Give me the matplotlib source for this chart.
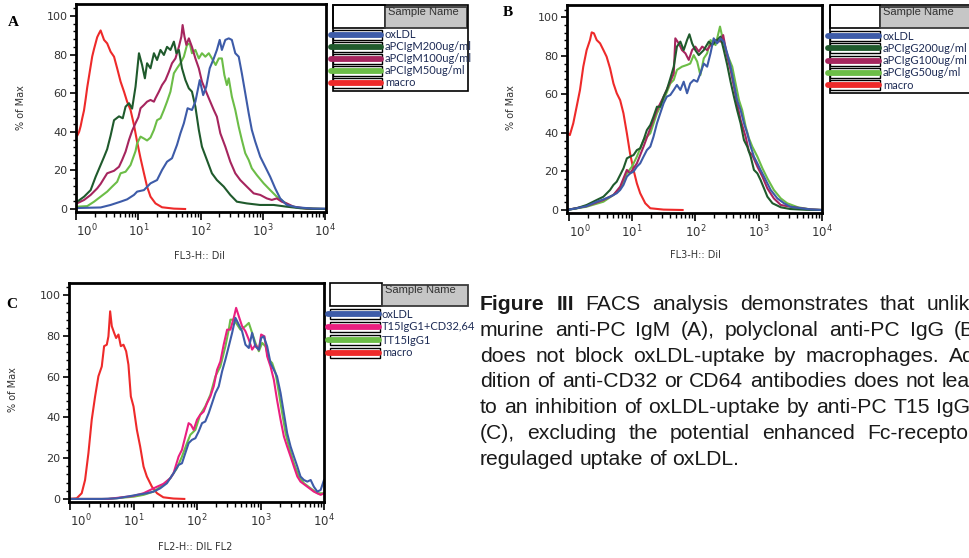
import numpy as np
import matplotlib
matplotlib.use("Agg")
import matplotlib.pyplot as plt
from matplotlib.ticker import FixedLocator, MultipleLocator
from matplotlib.patches import Rectangle

W, H = 969, 558

# ---- colours ----
BLUE = "#3d5ba8"
DKGREEN = "#1f5a2c"
MAROON = "#a6255e"
LTGREEN = "#6cbd47"
RED = "#ee2a2a"
PINK = "#ea1f80"

# ---- panel A : anti-PC IgM (x = log10 FL3-H, y = % of max) ----
A_OX_LOG = [0.0, 0.395, 0.555, 0.715, 0.82, 0.93, 0.98, 1.09, 1.195, 1.3, 1.38, 1.46, 1.54, 1.62, 1.675,
            1.73, 1.79, 1.86, 1.915, 1.985, 2.04, 2.09, 2.145, 2.21, 2.26, 2.305, 2.34, 2.395, 2.45, 2.5,
            2.555, 2.61, 2.66, 2.715, 2.77, 2.82, 2.875, 2.955, 3.035, 3.115, 3.195, 3.275, 3.38, 3.54, 3.8, 4.0]
A_OX_PCT = [0.5, 0.8, 2.1, 3.8, 5, 7.3, 9, 9.8, 13.3, 15, 20.2, 24.5, 26.3, 33.2, 39.2,
            44.4, 52.2, 51.3, 55.6, 66.8, 59, 63.4, 72.9, 78, 82.4, 87.6, 82.4, 87.6, 88.4, 87.6,
            80.7, 78.9, 70.3, 60, 49.6, 41, 34.9, 27.1, 21.9, 16.7, 10.7, 5.5, 2.1, 0.9, 0.2, 0.2]

A_M200_LOG = [0.0, 0.02, 0.13, 0.235, 0.315, 0.395, 0.45, 0.5, 0.555, 0.61, 0.69, 0.75, 0.795, 0.85, 0.9,
              0.955, 1.01, 1.06, 1.105, 1.14, 1.195, 1.25, 1.3, 1.355, 1.41, 1.46, 1.515, 1.57, 1.61, 1.65,
              1.7, 1.755, 1.81, 1.86, 1.915, 1.97, 2.02, 2.1, 2.18, 2.26, 2.37, 2.475, 2.58, 2.74, 2.95,
              3.17, 3.38, 3.6, 3.8, 4.0]
A_M200_PCT = [5, 3.8, 6.4, 9.8, 16.7, 22.8, 27, 31, 38, 46, 48, 47, 53, 54.8, 52,
              63.4, 80.7, 74.6, 67.7, 75.5, 72.9, 80.7, 77.2, 82.4, 79.8, 84, 82.4, 86.7, 80.7, 82.4,
              72.9, 66.8, 62.5, 60.8, 53, 41, 32.3, 25.4, 18.5, 15, 11.6, 7.3, 3.8, 2.9, 2.1,
              2.1, 1.2, 0.4, 0.1, 0]

A_M100_LOG = [0.0, 0.02, 0.13, 0.235, 0.34, 0.395, 0.45, 0.5, 0.61, 0.69, 0.74, 0.795, 0.85, 0.9, 0.955,
              1.0, 1.035, 1.09, 1.14, 1.195, 1.25, 1.275, 1.33, 1.38, 1.435, 1.49, 1.54, 1.595, 1.65, 1.69,
              1.71, 1.74, 1.77, 1.81, 1.86, 1.915, 1.97, 2.02, 2.075, 2.13, 2.21, 2.26, 2.315, 2.395,
              2.475, 2.555, 2.635, 2.74, 2.85, 2.955, 3.06, 3.14, 3.22, 3.3, 3.38, 3.49, 3.7, 4.0]
A_M100_PCT = [3.5, 3, 4.7, 7.3, 10.7, 13, 15.9, 18.5, 19.8, 21.9, 25.4, 29.7, 35.8, 40.5, 44.5,
              47.5, 52.2, 53.9, 55.6, 56.5, 55.6, 57.4, 60.8, 64.2, 66.8, 71.1, 75.5, 78, 84, 89.3,
              95.3, 89.3, 85, 88.4, 84, 78, 72.9, 66, 61.7, 57.4, 51.3, 47.8, 39.2, 32.3,
              24.5, 18.5, 15, 11.6, 8.1, 7.3, 5.5, 4.7, 5.5, 3.8, 2.9, 1.2, 0.2, 0]

A_M50_LOG = [0.0, 0.02, 0.18, 0.29, 0.395, 0.5, 0.58, 0.66, 0.715, 0.795, 0.875, 0.955, 0.98, 1.035, 1.09,
             1.14, 1.195, 1.25, 1.3, 1.355, 1.41, 1.46, 1.515, 1.57, 1.62, 1.675, 1.73, 1.78, 1.825, 1.86,
             1.915, 1.97, 2.02, 2.075, 2.13, 2.18, 2.24, 2.29, 2.34, 2.38, 2.42, 2.45, 2.5, 2.555, 2.61,
             2.66, 2.715, 2.77, 2.82, 2.9, 3.01, 3.115, 3.22, 3.33, 3.43, 3.6, 4.0]
A_M50_PCT = [1.5, 1.2, 1.5, 3.8, 6.4, 9, 11.6, 14.1, 18.5, 19.3, 22.8, 30, 34, 37.5, 36.5,
             35.5, 37, 41, 46, 47, 51.3, 55.6, 60.8, 70.3, 72.9, 75.5, 78.9, 85, 85.8, 80.7,
             82.4, 78, 80.7, 78.9, 80.7, 78, 74.6, 78, 78, 69.4, 64.2, 67.7, 58.2, 51.3, 42.6,
             35.8, 28.9, 25.4, 21.1, 17.6, 13.3, 9.8, 6.4, 3.8, 1.5, 0.5, 0]

A_MAC_LOG = [0.0, 0.02, 0.05, 0.075, 0.1, 0.128, 0.155, 0.18, 0.21, 0.235, 0.26, 0.29, 0.315, 0.34, 0.37,
             0.395, 0.45, 0.5, 0.555, 0.61, 0.66, 0.715, 0.77, 0.82, 0.875, 0.93, 0.98, 1.035, 1.09, 1.14,
             1.195, 1.275, 1.38, 1.57, 1.75]
A_MAC_PCT = [41, 38, 40, 43, 47, 51, 57, 63, 69, 74, 79, 83, 86, 89, 91,
             92.5, 87.6, 85.8, 81.5, 78.9, 72.9, 66, 60.8, 55.6, 51.3, 43.5, 34.9, 26.3, 18.5, 11.6,
             6.4, 2.9, 0.9, 0.2, 0]

# ---- panel B : polyclonal anti-PC IgG ----
B_OX_LOG = [-0.03, 0.127, 0.285, 0.444, 0.55, 0.655, 0.76, 0.814, 0.866, 0.92, 0.97, 1.025, 1.078, 1.13,
            1.183, 1.236, 1.29, 1.34, 1.395, 1.447, 1.5, 1.55, 1.606, 1.66, 1.71, 1.764, 1.817, 1.87,
            1.92, 1.975, 2.03, 2.08, 2.134, 2.187, 2.24, 2.29, 2.345, 2.398, 2.45, 2.504, 2.557, 2.61,
            2.66, 2.715, 2.768, 2.82, 2.874, 2.926, 2.98, 3.03, 3.085, 3.138, 3.19, 3.296, 3.4, 3.5,
            3.67, 3.82, 4.0]
B_OX_PCT = [0, 0.9, 2, 4.3, 5.5, 6.9, 8.7, 10.4, 13, 17.3, 19, 19.9, 22.5, 24.2,
            27.7, 31.1, 32.9, 38, 45, 50.2, 55.4, 58.8, 59.7, 62.3, 64.9, 62.3, 66.6, 60.6,
            65.7, 67.5, 66.6, 70.9, 76, 74.4, 81.3, 89.1, 86.5, 89.1, 87.4, 81.3, 74.4, 65.7,
            57, 51.9, 45, 39.8, 32.9, 27.7, 24.2, 20.8, 17.3, 13.8, 10.4, 6, 3.5, 1.7,
            0.9, 0.3, 0]

B_G200_LOG = [-0.03, 0.127, 0.285, 0.444, 0.55, 0.655, 0.708, 0.76, 0.814, 0.866, 0.92, 0.97, 1.025,
              1.078, 1.13, 1.183, 1.236, 1.29, 1.34, 1.395, 1.447, 1.5, 1.55, 1.606, 1.66, 1.71, 1.764,
              1.817, 1.87, 1.907, 1.95, 2.0, 2.055, 2.134, 2.213, 2.266, 2.345, 2.398, 2.45, 2.504,
              2.557, 2.61, 2.66, 2.715, 2.768, 2.82, 2.874, 2.926, 2.98, 3.03, 3.085, 3.138, 3.218,
              3.35, 3.5, 3.75, 4.0]
B_G200_PCT = [0, 0.9, 2.6, 5.2, 6.9, 10.4, 13, 14.7, 18.2, 21.6, 26.8, 27.7, 28.5,
              31.1, 32, 36.3, 41.5, 44.1, 48.4, 53.6, 53.6, 58.8, 62.3, 68.3, 74.4, 84.8, 87.4,
              83, 88.2, 91.2, 86.5, 83, 80.4, 83, 87.4, 85.6, 88.2, 90, 83, 75.3,
              66.6, 58.8, 51.9, 45, 36.3, 32.9, 27.7, 20.8, 19, 15.6, 11.2, 6.9, 3.5,
              1.4, 0.5, 0.1, 0]

B_G100_LOG = [-0.03, 0.285, 0.55, 0.708, 0.814, 0.92, 0.97, 1.078, 1.183, 1.29, 1.395, 1.5, 1.606,
              1.66, 1.685, 1.738, 1.79, 1.844, 1.897, 1.95, 2.0, 2.055, 2.108, 2.187, 2.24, 2.32, 2.398,
              2.44, 2.504, 2.557, 2.61, 2.66, 2.715, 2.795, 2.847, 2.9, 2.98, 3.06, 3.138, 3.24, 3.35,
              3.5, 3.67, 3.82, 4.0]
B_G100_PCT = [0, 2, 5.2, 7.8, 12.1, 20.8, 19, 24.2, 32.9, 42.4, 51.9, 58.8, 66.6,
              70.9, 89.1, 86.5, 83, 81.3, 77.9, 83, 84.8, 82.2, 84.8, 83, 85.6, 88.2, 87.4,
              90.8, 79.6, 72.7, 64, 55.4, 46.7, 38, 30.3, 28.5, 22.5, 17.3, 11.2, 6, 2.6,
              1.7, 0.9, 0.3, 0]

B_G50_LOG = [-0.03, 0.285, 0.55, 0.708, 0.814, 0.92, 1.0, 1.078, 1.183, 1.29, 1.395, 1.5, 1.606, 1.66,
             1.71, 1.79, 1.87, 1.92, 1.975, 2.03, 2.08, 2.134, 2.187, 2.24, 2.32, 2.39, 2.425, 2.478,
             2.53, 2.583, 2.636, 2.69, 2.74, 2.795, 2.847, 2.9, 2.98, 3.06, 3.138, 3.24, 3.35, 3.45,
             3.62, 3.82, 4.0]
B_G50_PCT = [0, 1.7, 4.3, 7.8, 11.2, 19, 22.5, 27.7, 36.3, 39.8, 50.2, 57, 65.7, 67.5,
             72.7, 74.4, 75.3, 76, 80.4, 77, 70, 78.7, 81.3, 88.2, 85.6, 95.2, 90, 83,
             78.7, 74.4, 65.7, 57, 51.9, 43.3, 37.2, 32.9, 27.7, 21.6, 16.4, 10.4, 6, 3.5,
             1.4, 0.3, 0]

B_MAC_LOG = [-0.03, -0.02, 0.02, 0.074, 0.127, 0.18, 0.232, 0.285, 0.338, 0.365, 0.4, 0.444, 0.497,
             0.55, 0.6, 0.655, 0.708, 0.76, 0.814, 0.866, 0.92, 0.97, 1.025, 1.078, 1.13, 1.21, 1.29,
             1.5, 1.8]
B_MAC_PCT = [68, 40, 38.9, 45, 53.6, 62.3, 74.4, 83, 88.2, 92.2, 91.7, 88.2, 86.5,
             83, 79.6, 73.5, 65.7, 60.6, 57, 50.2, 39.8, 29.4, 20.8, 13.8, 8.7, 3.5, 0.9,
             0.2, 0]

# ---- panel C : T15 IgG1 with / without anti-CD32/64 ----
C_OX_LOG = [-0.016, 0.5, 0.737, 0.895, 1.053, 1.21, 1.316, 1.42, 1.526, 1.63, 1.71, 1.763, 1.816, 1.868,
            1.92, 1.974, 2.026, 2.079, 2.13, 2.184, 2.237, 2.29, 2.342, 2.395, 2.447, 2.5, 2.553, 2.605,
            2.658, 2.71, 2.763, 2.816, 2.868, 2.92, 2.974, 3.01, 3.05, 3.105, 3.158, 3.21, 3.26, 3.316,
            3.368, 3.42, 3.474, 3.526, 3.58, 3.63, 3.684, 3.737, 3.79, 3.84, 3.895, 3.947, 4.0]
C_OX_PCT = [0, 0, 0.3, 1.1, 2, 2.8, 3.6, 5.2, 7.7, 12.6, 16.7, 17.5, 22.5, 27.4,
            29, 29.8, 33.1, 37.2, 38, 42.1, 47, 52, 55.2, 62.6, 68.4, 74.9, 81.5, 88.9,
            85.6, 82.3, 75.7, 74.1, 81.5, 74.9, 73.3, 79, 79.8, 74.9, 66.7, 63.4, 60.2, 52,
            42.1, 32.3, 25.7, 20.8, 15.9, 11, 9.3, 8.5, 9.3, 6, 3.6, 4.4, 9.3]

C_CD_LOG = [-0.016, 0.6, 1.0, 1.158, 1.263, 1.37, 1.47, 1.58, 1.63, 1.71, 1.763, 1.816, 1.868, 1.905,
            1.947, 2.0, 2.05, 2.105, 2.158, 2.21, 2.263, 2.316, 2.368, 2.42, 2.474, 2.526, 2.579, 2.616,
            2.658, 2.71, 2.763, 2.816, 2.868, 2.92, 2.974, 3.01, 3.063, 3.105, 3.158, 3.21, 3.26, 3.316,
            3.368, 3.42, 3.474, 3.526, 3.58, 3.63, 3.737, 3.84, 3.947, 4.0]
C_CD_PCT = [0, 0, 1.5, 2.8, 4.4, 6, 7.4, 10.2, 12.6, 20.8, 24.1, 30.7, 37.2, 36.4,
            33.9, 38.9, 41.3, 42.9, 47, 50.3, 55.2, 63.4, 67.5, 75.7, 83.1, 83.1, 88.9, 93.8,
            89.7, 84.8, 82.3, 78.2, 73.3, 75.7, 73.3, 80.7, 79.8, 70, 65, 58.5, 48.7, 38.9,
            30.7, 25.7, 20.8, 15.9, 11, 8.5, 6, 3.6, 2, 2.8]

C_TT_LOG = [-0.016, 0.6, 1.0, 1.158, 1.316, 1.47, 1.58, 1.684, 1.763, 1.842, 1.895, 1.974, 2.05, 2.13,
            2.21, 2.29, 2.368, 2.447, 2.5, 2.526, 2.579, 2.632, 2.684, 2.763, 2.816, 2.868, 2.92, 2.974,
            3.026, 3.079, 3.13, 3.184, 3.237, 3.29, 3.342, 3.395, 3.447, 3.526, 3.605, 3.684, 3.79,
            3.895, 4.0]
C_TT_PCT = [0, 0, 1.1, 2, 3.6, 6.9, 10.2, 15.1, 20.8, 27.4, 31.5, 33.9, 41.3, 45.4,
            51.1, 60.2, 65, 74.9, 83.1, 88, 88, 85.6, 83.1, 84.8, 86.4, 81.5, 76.6, 72.5,
            76.6, 74.9, 68.4, 66.7, 61.8, 52, 42.1, 32.3, 25.7, 17.5, 11, 7.7, 5.2,
            2.8, 2.8]

C_MAC_LOG = [-0.016, 0.105, 0.184, 0.237, 0.29, 0.342, 0.395, 0.447, 0.5, 0.537, 0.579, 0.605, 0.632,
             0.658, 0.695, 0.726, 0.763, 0.8, 0.842, 0.884, 0.92, 0.958, 1.0, 1.053, 1.105, 1.158, 1.21,
             1.29, 1.37, 1.47, 1.63, 1.8]
C_MAC_PCT = [0, 0.3, 2.8, 9.3, 22.5, 38.9, 50.3, 60.2, 65, 75, 75.7, 79.8, 92.1,
             84.8, 81.5, 79, 80.7, 75, 75.7, 72.5, 65.9, 50.3, 45.4, 33.9, 25.7, 15.9, 11,
             6, 2.8, 0.8, 0.2, 0]

# legend order (name, colour, log, pct)
A_SERIES = [("oxLDL", BLUE, A_OX_LOG, A_OX_PCT),
            ("aPCIgM200ug/ml", DKGREEN, A_M200_LOG, A_M200_PCT),
            ("aPCIgM100ug/ml", MAROON, A_M100_LOG, A_M100_PCT),
            ("aPCIgM50ug/ml", LTGREEN, A_M50_LOG, A_M50_PCT),
            ("macro", RED, A_MAC_LOG, A_MAC_PCT)]
B_SERIES = [("oxLDL", BLUE, B_OX_LOG, B_OX_PCT),
            ("aPCIgG200ug/ml", DKGREEN, B_G200_LOG, B_G200_PCT),
            ("aPCIgG100ug/ml", MAROON, B_G100_LOG, B_G100_PCT),
            ("aPCIgG50ug/ml", LTGREEN, B_G50_LOG, B_G50_PCT),
            ("macro", RED, B_MAC_LOG, B_MAC_PCT)]
C_SERIES = [("oxLDL", BLUE, C_OX_LOG, C_OX_PCT),
            ("T15IgG1+CD32,64", PINK, C_CD_LOG, C_CD_PCT),
            ("TT15IgG1", LTGREEN, C_TT_LOG, C_TT_PCT),
            ("macro", RED, C_MAC_LOG, C_MAC_PCT)]

DECADES = [1, 10, 100, 1000, 10000]
DECADE_LABELS = ["$10^{0}$", "$10^{1}$", "$10^{2}$", "$10^{3}$", "$10^{4}$"]
Y_TICKS = [0, 20, 40, 60, 80, 100]

CAPTION = ["Figure III FACS analysis demonstrates that unlike",
           "murine anti-PC IgM (A), polyclonal anti-PC IgG (B)",
           "does not block oxLDL-uptake by macrophages. Ad-",
           "dition of anti-CD32 or CD64 antibodies does not lead",
           "to an inhibition of oxLDL-uptake by anti-PC T15 IgG1",
           "(C), excluding the potential enhanced Fc-receptor-",
           "regulaged uptake of oxLDL."]

fig = plt.figure(figsize=(W / 100, H / 100), dpi=100)
fig.patch.set_facecolor("white")

# overlay in pixel coords for legends / labels
ov = fig.add_axes([0, 0, 1, 1], zorder=5)
ov.set_xlim(0, W)
ov.set_ylim(H, 0)
ov.axis("off")


def panel(box, series, order, xlog_lim, ymin, ymax, xlabel, xlabel_xy, ylabel_xy, letter, letter_xy):
    l, t, r, b = box
    ax = fig.add_axes([l / W, 1 - b / H, (r - l) / W, (b - t) / H])
    for idx in order:
        name, col, lx, py = series[idx]
        ax.plot(10 ** np.array(lx), py, color=col, lw=1.5, solid_joinstyle="round")
    ax.set_xscale("log")
    ax.set_xlim(10 ** xlog_lim[0], 10 ** xlog_lim[1])
    ax.set_ylim(ymin, ymax)
    ax.xaxis.set_major_locator(FixedLocator(DECADES))
    minors = [m * d for d in DECADES[:-1] for m in range(2, 10)]
    ax.xaxis.set_minor_locator(FixedLocator(minors))
    labs = ax.set_xticklabels(DECADE_LABELS)
    labs[0].set_horizontalalignment("left")
    ax.set_yticks(Y_TICKS)
    ax.yaxis.set_minor_locator(MultipleLocator(4))
    ax.tick_params(axis="x", which="major", length=6, width=1.2, pad=1.5, labelsize=8.5,
                   labelcolor="#333333")
    ax.tick_params(axis="x", which="minor", length=3.5, width=1)
    ax.tick_params(axis="y", which="major", length=4, width=1.2, pad=2, labelsize=8,
                   labelcolor="#333333")
    ax.tick_params(axis="y", which="minor", length=2.5, width=1)
    for s in ax.spines.values():
        s.set_linewidth(2.0)
    ov.text(*xlabel_xy, xlabel, ha="center", va="center", fontsize=7, color="#333333")
    ov.text(*ylabel_xy, "% of Max", ha="center", va="center", rotation=90, fontsize=7,
            color="#333333")
    ov.text(*letter_xy, letter, ha="center", va="center", fontsize=11, fontweight="bold",
            family="Liberation Serif")
    return ax


def legend(x0, y0, gray_x, gray_r, box_r, text_x, first_y, step, series, frame=None):
    ov.add_patch(Rectangle((x0, y0), gray_x - x0, 23, fc="white", ec="black", lw=1.2))
    ov.add_patch(Rectangle((gray_x, y0 + 2), gray_r - gray_x, 21, fc="#c6c6c6", ec="#3a3a3a",
                           lw=1.3))
    ov.text(gray_x + 3, y0 + 7, "Sample Name", ha="left", va="center", fontsize=8,
            family="Liberation Sans", color="#333333")
    if frame is not None:
        ov.add_patch(Rectangle((x0, y0), frame[0] - x0, frame[1] - y0, fill=False, ec="black",
                               lw=1.2))
    for i, (name, col, _, _) in enumerate(series):
        yc = first_y + i * step
        ov.add_patch(Rectangle((x0, yc - 5), box_r - x0, 10, fc="white", ec="black", lw=1.0))
        ov.plot([x0 - 1.5, box_r - 1], [yc, yc], color=col, lw=4.2, solid_capstyle="round")
        ov.text(text_x, yc, name, ha="left", va="center", fontsize=8, family="Lato",
                color="#1d2b55")


panel((76, 4, 326, 212), A_SERIES, [4, 3, 2, 1, 0], (0.0, 4.01), -1.55, 106.2,
      "FL3-H:: Dil", (199, 256), (21, 108), "A", (13, 22))
panel((567, 5, 822, 213), B_SERIES, [4, 3, 2, 1, 0], (-0.025, 4.0), -1.56, 106.4,
      "FL3-H:: Dil", (695, 255), (511, 108), "B", (508, 12))
panel((69, 283, 324, 502), C_SERIES, [3, 2, 1, 0], (-0.016, 4.0), -1.5, 106.0,
      "FL2-H:: DIL FL2", (195, 547), (13, 390), "C", (12, 305))

legend(333, 5, 385, 467, 382, 385, 35, 12, A_SERIES, frame=(468, 91))
legend(830, 5, 880, 975, 880, 883, 36, 12.3, B_SERIES, frame=(975, 93))
legend(330, 283, 382, 468, 380, 382, 314, 13, C_SERIES)

# ---- justified caption ----
CAP_L, CAP_R = 480, 982
CAP_BASE, CAP_STEP = 310, 25.8
CAP_FS = 15.2
renderer = fig.canvas.get_renderer()


def word_width(word, bold):
    t = fig.text(0, 0, word, fontsize=CAP_FS, family="Liberation Sans",
                 fontweight="bold" if bold else "normal")
    w = t.get_window_extent(renderer=renderer).width
    t.remove()
    return w


space_w = word_width("a b", False) - word_width("ab", False)
for i, line in enumerate(CAPTION):
    words = line.split()
    bolds = [i == 0 and j < 2 for j in range(len(words))]
    widths = [word_width(w, b) for w, b in zip(words, bolds)]
    if i < len(CAPTION) - 1:
        gap = (CAP_R - CAP_L - sum(widths)) / (len(words) - 1)
    else:
        gap = space_w
    x = CAP_L
    y = CAP_BASE + i * CAP_STEP
    for w, b, wd in zip(words, bolds, widths):
        ov.text(x, y, w, ha="left", va="baseline", fontsize=CAP_FS, family="Liberation Sans",
                fontweight="bold" if b else "normal", color="#1a1a1a")
        x += wd + gap

fig.savefig("out.png", dpi=100, facecolor="white")
